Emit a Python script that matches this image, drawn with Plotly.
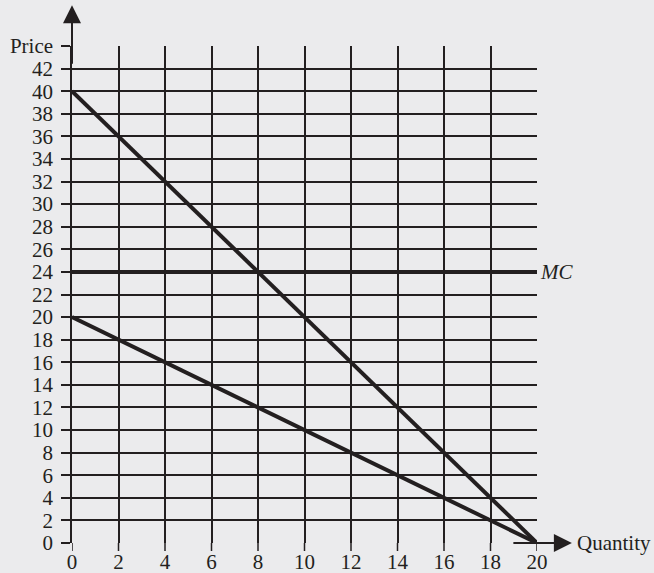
import plotly.graph_objects as go

quantity = [0, 20]
demand = [40, 0]
marginal_revenue = [20, 0]
marginal_cost = [24, 24]

x_ticks = list(range(0, 21, 2))
y_ticks = list(range(0, 45, 2))
y_labels = [str(v) for v in y_ticks[:-1]] + ["Price"]

ink = "#231f20"
bg = "#ebebed"
font = dict(family="Liberation Serif", size=21, color=ink)

fig = go.Figure()
for ys in (demand, marginal_revenue, marginal_cost):
    fig.add_trace(go.Scatter(x=quantity, y=ys, mode="lines",
                             line=dict(color=ink, width=4), cliponaxis=False,
                             hoverinfo="skip"))

fig.update_layout(
    width=654, height=573,
    paper_bgcolor=bg, plot_bgcolor=bg,
    margin=dict(l=72, r=117, t=46, b=30),
    showlegend=False,
    font=font,
    xaxis=dict(range=[0, 20], tickvals=x_ticks, ticks="", showgrid=True,
               gridcolor=ink, gridwidth=1.5, zeroline=False, showline=False,
               automargin=False, ticklabelstandoff=4, tickfont=font),
    yaxis=dict(range=[0, 44], tickvals=y_ticks, ticktext=y_labels,
               ticks="outside", ticklen=9, tickcolor=ink, tickwidth=1.5,
               showgrid=True, gridcolor=ink, gridwidth=1.5, zeroline=False,
               showline=True, linecolor=ink, linewidth=1.5, automargin=False,
               ticklabelstandoff=4, tickfont=font),
)

# short tick marks below the quantity axis
for t in x_ticks:
    fig.add_shape(type="line", xref="x", yref="paper", x0=t, x1=t,
                  y0=0, y1=-8 / 497, line=dict(color=ink, width=1.5))

# axis arrows
fig.add_annotation(x=0, y=1.082, xref="x", yref="paper", ax=0, ay=60,
                   showarrow=True, arrowhead=2, arrowsize=1.8, arrowwidth=2,
                   arrowcolor=ink, text="")
fig.add_annotation(x=1.075, y=0, xref="paper", yref="y", ax=-60, ay=0,
                   showarrow=True, arrowhead=2, arrowsize=1.8, arrowwidth=2,
                   arrowcolor=ink, text="")
fig.add_annotation(x=1.075, y=0, xref="paper", yref="y", xanchor="left",
                   xshift=3, showarrow=False, text="Quantity", font=font)
fig.add_annotation(x=20, y=24, xref="x", yref="y", xanchor="left",
                   xshift=1, showarrow=False, text="<i>MC</i>", font=font)

fig.write_html("out.html", config={"displayModeBar": False},
               post_script="document.body.style.margin='0';"
                           "document.body.style.background='#ebebed';")
